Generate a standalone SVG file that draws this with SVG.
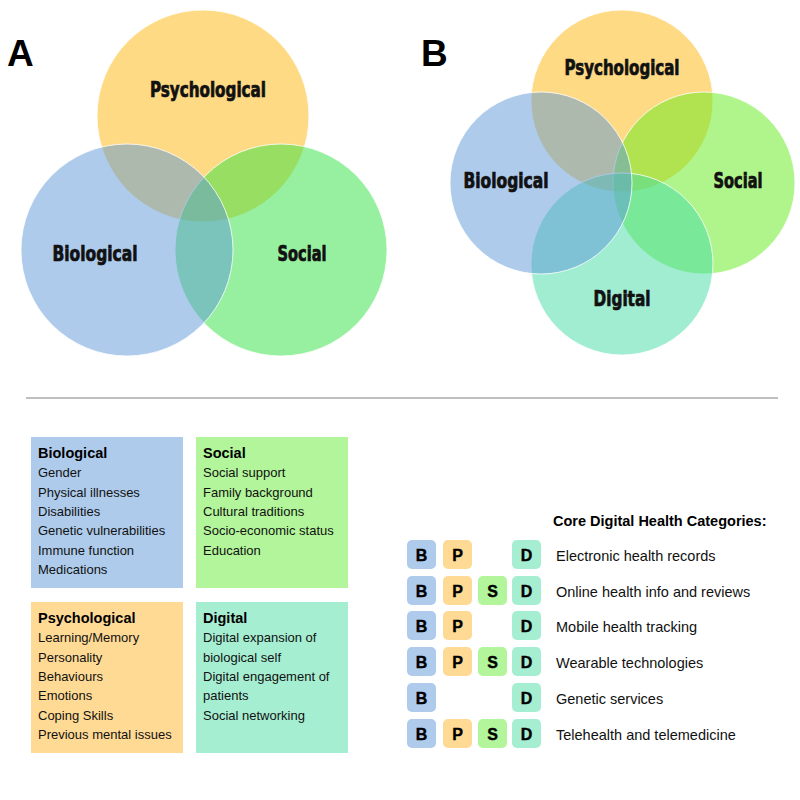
<svg xmlns="http://www.w3.org/2000/svg" width="800" height="800" viewBox="0 0 800 800">
<style>
.panel{font-family:"Liberation Sans",Arial,sans-serif;font-weight:bold;font-size:37px;fill:#000}
.vl{font-family:"DejaVu Sans Condensed","DejaVu Sans",sans-serif;font-weight:bold;font-size:20.5px;fill:#111;stroke:#111;stroke-width:0.7;text-anchor:middle}
.c{stroke:#fff;stroke-width:1;stroke-opacity:0.8}
.bio{fill:#5D97D7;fill-opacity:0.5}
.psy{fill:#FFB50B;fill-opacity:0.5}
.socA{fill:#2FE141;fill-opacity:0.5}
.socB{fill:#61EB19;fill-opacity:0.5}
.dig{fill:#41DBA5;fill-opacity:0.5}
.bt{font-family:"Liberation Sans",Arial,sans-serif;font-size:13px;fill:#111}
.bh{font-family:"Liberation Sans",Arial,sans-serif;font-size:14.5px;font-weight:bold;fill:#000}
.ct{font-family:"Liberation Sans",Arial,sans-serif;font-size:14.5px;fill:#111}
.bx{font-family:"Liberation Sans",Arial,sans-serif;font-size:16px;font-weight:bold;fill:#000;stroke:#000;stroke-width:0.4;text-anchor:middle}
.fb{fill:#AECBEB}.fp{fill:#FFDA95}.fs{fill:#B2F59A}.fd{fill:#A6EED2}
</style>
<rect width="800" height="800" fill="#fff"/>

<!-- Panel A -->
<text class="panel" x="7" y="66">A</text>
<g id="A-psychological"><circle class="c psy" cx="203" cy="116" r="106"/></g>
<g id="A-social"><circle class="c socA" cx="281" cy="250" r="106"/></g>
<g id="A-biological"><circle class="c bio" cx="127" cy="250" r="106"/></g>
<text class="vl" x="208" y="97" textLength="116" lengthAdjust="spacingAndGlyphs">Psychological</text>
<text class="vl" x="95" y="261" textLength="85" lengthAdjust="spacingAndGlyphs">Biological</text>
<text class="vl" x="302" y="261" textLength="49" lengthAdjust="spacingAndGlyphs">Social</text>

<!-- Panel B -->
<text class="panel" x="421" y="66">B</text>
<g id="B-psychological"><circle class="c psy" cx="622" cy="101" r="91"/></g>
<g id="B-social"><circle class="c socB" cx="704" cy="183" r="91"/></g>
<g id="B-digital"><circle class="c dig" cx="622" cy="264" r="91"/></g>
<g id="B-biological"><circle class="c bio" cx="541" cy="183" r="91"/></g>
<text class="vl" x="622" y="75" textLength="115" lengthAdjust="spacingAndGlyphs">Psychological</text>
<text class="vl" x="506" y="188" textLength="85" lengthAdjust="spacingAndGlyphs">Biological</text>
<text class="vl" x="738" y="188" textLength="49" lengthAdjust="spacingAndGlyphs">Social</text>
<text class="vl" x="622" y="306" textLength="57" lengthAdjust="spacingAndGlyphs">Digital</text>

<g id="connectors"></g>

<line x1="26" y1="398" x2="778" y2="398" stroke="#c0c0c0" stroke-width="2"/>

<!-- Boxes -->
<g id="box-biological">
<rect class="fb" x="31" y="437" width="152" height="151"/>
<text class="bh" x="38" y="458">Biological</text>
<text class="bt" x="38" y="477.3">Gender</text>
<text class="bt" x="38" y="496.6">Physical illnesses</text>
<text class="bt" x="38" y="515.9">Disabilities</text>
<text class="bt" x="38" y="535.2">Genetic vulnerabilities</text>
<text class="bt" x="38" y="554.5">Immune function</text>
<text class="bt" x="38" y="573.8">Medications</text>
</g>
<g id="box-social">
<rect class="fs" x="196" y="437" width="152" height="151"/>
<text class="bh" x="203" y="458">Social</text>
<text class="bt" x="203" y="477.3">Social support</text>
<text class="bt" x="203" y="496.6">Family background</text>
<text class="bt" x="203" y="515.9">Cultural traditions</text>
<text class="bt" x="203" y="535.2">Socio-economic status</text>
<text class="bt" x="203" y="554.5">Education</text>
</g>
<g id="box-psychological">
<rect class="fp" x="31" y="602" width="152" height="151"/>
<text class="bh" x="38" y="623">Psychological</text>
<text class="bt" x="38" y="642.3">Learning/Memory</text>
<text class="bt" x="38" y="661.6">Personality</text>
<text class="bt" x="38" y="680.9">Behaviours</text>
<text class="bt" x="38" y="700.2">Emotions</text>
<text class="bt" x="38" y="719.5">Coping Skills</text>
<text class="bt" x="38" y="738.8">Previous mental issues</text>
</g>
<g id="box-digital">
<rect class="fd" x="196" y="602" width="152" height="151"/>
<text class="bh" x="203" y="623">Digital</text>
<text class="bt" x="203" y="642.3">Digital expansion of</text>
<text class="bt" x="203" y="661.6">biological self</text>
<text class="bt" x="203" y="680.9">Digital engagement of</text>
<text class="bt" x="203" y="700.2">patients</text>
<text class="bt" x="203" y="719.5">Social networking</text>
</g>

<!-- Categories -->
<g id="categories">
<text class="bh" x="553" y="526">Core Digital Health Categories:</text>
<defs>
<g id="bB"><rect class="fb" width="29" height="29" rx="5"/><text class="bx" x="14.5" y="20.5">B</text></g>
<g id="bP"><rect class="fp" width="29" height="29" rx="5"/><text class="bx" x="14.5" y="20.5">P</text></g>
<g id="bS"><rect class="fs" width="29" height="29" rx="5"/><text class="bx" x="14.5" y="20.5">S</text></g>
<g id="bD"><rect class="fd" width="29" height="29" rx="5"/><text class="bx" x="14.5" y="20.5">D</text></g>
</defs>
</g>
<g id="row-ehr">
<use href="#bB" x="407" y="540"/><use href="#bP" x="443" y="540"/><use href="#bD" x="512" y="540"/>
<text class="ct" x="556" y="560.5">Electronic health records</text>
</g>
<g id="row-online">
<use href="#bB" x="407" y="576"/><use href="#bP" x="443" y="576"/><use href="#bS" x="478" y="576"/><use href="#bD" x="512" y="576"/>
<text class="ct" x="556" y="596.5">Online health info and reviews</text>
</g>
<g id="row-mobile">
<use href="#bB" x="407" y="611"/><use href="#bP" x="443" y="611"/><use href="#bD" x="512" y="611"/>
<text class="ct" x="556" y="631.5">Mobile health tracking</text>
</g>
<g id="row-wearable">
<use href="#bB" x="407" y="647"/><use href="#bP" x="443" y="647"/><use href="#bS" x="478" y="647"/><use href="#bD" x="512" y="647"/>
<text class="ct" x="556" y="667.5">Wearable technologies</text>
</g>
<g id="row-genetic">
<use href="#bB" x="407" y="683"/><use href="#bD" x="512" y="683"/>
<text class="ct" x="556" y="703.5">Genetic services</text>
</g>
<g id="row-tele">
<use href="#bB" x="407" y="719"/><use href="#bP" x="443" y="719"/><use href="#bS" x="478" y="719"/><use href="#bD" x="512" y="719"/>
<text class="ct" x="556" y="739.5">Telehealth and telemedicine</text>
</g>
</svg>
